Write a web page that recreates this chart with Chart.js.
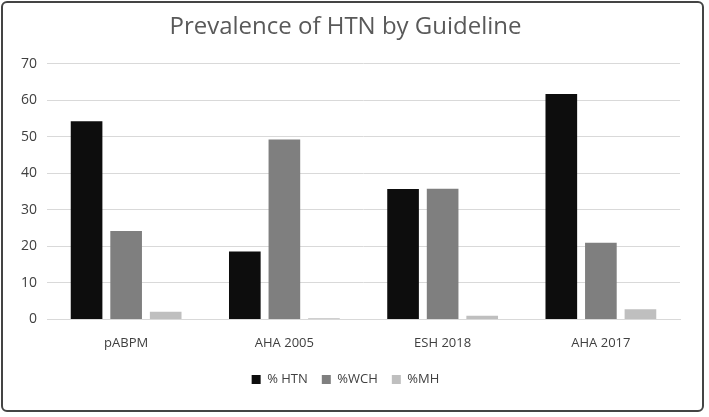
<!DOCTYPE html>
<html>
<head>
<script src="https://cdn.jsdelivr.net/npm/chart.js@4"></script>
<style>
html,body{margin:0;padding:0;background:#fff;}
#wrap{position:absolute;left:1px;top:1px;width:703px;height:411px;border:2px solid #444;border-radius:6px;box-sizing:border-box;}
</style>
</head>
<body>
<div id="wrap"><canvas id="c"></canvas></div>
<script>
const categories = ["pABPM", "AHA 2005", "ESH 2018", "AHA 2017"];
const htn = [54.3, 18.6, 35.7, 61.7];
const wch = [24.2, 49.3, 35.8, 21.0];
const mh = [2.1, 0.3, 1.0, 2.8];

new Chart(document.getElementById("c"), {
  type: 'bar',
  data: {
    labels: categories,
    datasets: [
      { label: "% HTN", data: htn, backgroundColor: "#0d0d0d" },
      { label: "%WCH", data: wch, backgroundColor: "#7f7f7f" },
      { label: "%MH", data: mh, backgroundColor: "#bfbfbf" }
    ]
  },
  options: {
    responsive: true,
    maintainAspectRatio: false,
    animation: false,
    layout: { padding: { left: 8, right: 22, top: 6, bottom: 14 } },
    datasets: { bar: { categoryPercentage: 0.75, barPercentage: 0.8 } },
    plugins: {
      title: { display: true, text: "Prevalence of HTN by Guideline", color: "#595959",
        font: { family: "Open Sans", size: 24, weight: 'normal' }, padding: { top: 4, bottom: 22 } },
      legend: { position: 'bottom', labels: { color: "#404040", boxWidth: 9, boxHeight: 9,
        font: { family: "Open Sans", size: 13 }, padding: 14 } },
      tooltip: { enabled: false }
    },
    scales: {
      x: { grid: { display: false }, border: { color: "#d9d9d9" },
        ticks: { color: "#404040", padding: 8, font: { family: "Open Sans", size: 13 } } },
      y: { min: 0, max: 70, ticks: { stepSize: 10, color: "#404040", padding: 10,
        font: { family: "Open Sans", size: 14 } },
        grid: { color: "#d9d9d9", drawTicks: false }, border: { display: false } }
    }
  }
});
</script>
</body>
</html>
